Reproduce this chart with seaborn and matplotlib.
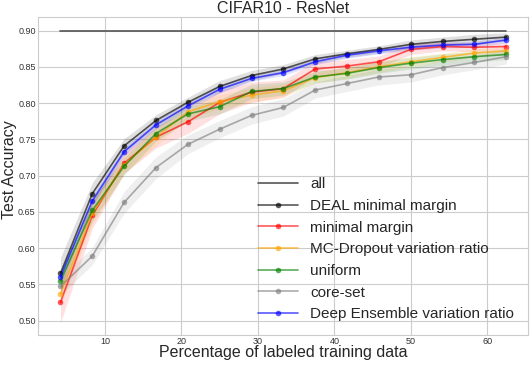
import numpy as np
import seaborn as sns
from matplotlib import pyplot as plt

# percentage of labeled training data (steps of 1/24)
pct = [4.17, 8.33, 12.5, 16.67, 20.83, 25.0, 29.17, 33.33, 37.5, 41.67, 45.83, 50.0, 54.17, 58.33, 62.5]
all_acc = 0.899

deal = [0.565, 0.675, 0.741, 0.776, 0.801, 0.823, 0.838, 0.847, 0.861, 0.868, 0.874, 0.881, 0.885, 0.888, 0.891]
margin = [0.525, 0.645, 0.717, 0.753, 0.774, 0.801, 0.815, 0.820, 0.847, 0.851, 0.857, 0.874, 0.878, 0.877, 0.878]
mc_dropout = [0.537, 0.648, 0.715, 0.753, 0.788, 0.802, 0.811, 0.817, 0.835, 0.842, 0.850, 0.857, 0.863, 0.869, 0.872]
uniform = [0.555, 0.652, 0.713, 0.758, 0.785, 0.795, 0.816, 0.820, 0.836, 0.841, 0.849, 0.855, 0.860, 0.864, 0.867]
core_set = [0.547, 0.589, 0.663, 0.711, 0.743, 0.764, 0.783, 0.794, 0.818, 0.827, 0.836, 0.839, 0.849, 0.856, 0.864]
ensemble = [0.560, 0.665, 0.733, 0.770, 0.796, 0.819, 0.834, 0.842, 0.857, 0.866, 0.872, 0.877, 0.880, 0.881, 0.887]

# spread of the runs (half width of the shaded band)
deal_sd = [0.022, 0.015, 0.010, 0.008, 0.007, 0.008, 0.007, 0.006, 0.006, 0.005, 0.005, 0.006, 0.006, 0.007, 0.006]
margin_sd = [0.028, 0.018, 0.014, 0.015, 0.016, 0.016, 0.014, 0.012, 0.010, 0.009, 0.008, 0.007, 0.006, 0.006, 0.005]
mc_dropout_sd = [0.015, 0.015, 0.012, 0.012, 0.010, 0.010, 0.010, 0.009, 0.008, 0.008, 0.008, 0.007, 0.006, 0.006, 0.005]
uniform_sd = [0.015, 0.015, 0.012, 0.010, 0.010, 0.010, 0.010, 0.009, 0.008, 0.008, 0.008, 0.008, 0.008, 0.007, 0.007]
core_set_sd = [0.012, 0.012, 0.015, 0.015, 0.013, 0.012, 0.012, 0.012, 0.011, 0.011, 0.011, 0.010, 0.010, 0.010, 0.010]
ensemble_sd = [0.008, 0.007, 0.006, 0.005, 0.005, 0.005, 0.004, 0.004, 0.004, 0.004, 0.004, 0.004, 0.004, 0.004, 0.004]

series = [
    ("DEAL minimal margin", deal, deal_sd, "black"),
    ("minimal margin", margin, margin_sd, "red"),
    ("MC-Dropout variation ratio", mc_dropout, mc_dropout_sd, "orange"),
    ("uniform", uniform, uniform_sd, "green"),
    ("core-set", core_set, core_set_sd, "gray"),
    ("Deep Ensemble variation ratio", ensemble, ensemble_sd, "blue"),
]

sns.set_style("whitegrid")
plt.rcParams['font.family'] = ['Liberation Sans', 'DejaVu Sans']

fig, ax = plt.subplots(figsize=(5.32, 3.65), dpi=100)
fig.subplots_adjust(left=0.071, right=0.992, top=0.954, bottom=0.082)

sns.lineplot(x=[pct[0], pct[-1]], y=[all_acc, all_acc], color="#555555", lw=1.2, label="all", ax=ax)
for name, vals, sd, col in series:
    vals = np.array(vals)
    sd = np.array(sd)
    sns.lineplot(x=pct, y=vals, color=col, alpha=0.65, lw=1.2, marker="o", markersize=4,
                 markeredgewidth=0, label=name, ax=ax)
    ax.fill_between(pct, vals - sd, vals + sd, color=col, alpha=0.12, lw=0)

ax.set_xlim(1.2, 65.3)
ax.set_ylim(0.48, 0.919)
ax.set_yticks(np.arange(0.50, 0.901, 0.05))
ax.set_xticks([10, 20, 30, 40, 50, 60])
ax.tick_params(labelsize=6.5, length=0, pad=1.5, labelcolor="#333333")
ax.set_title("CIFAR10 - ResNet", fontsize=11.5, pad=2.5)
ax.set_xlabel("Percentage of labeled training data", fontsize=11.5)
ax.set_ylabel("Test Accuracy", fontsize=11.5)
ax.xaxis.set_label_coords(0.5, -0.031)
ax.xaxis.label.set_va("top")
ax.yaxis.set_label_coords(-0.042, 0.52)
ax.legend(loc="lower right", fontsize=11, frameon=False, handlelength=2.6)

fig.savefig("out.png", dpi=100)
